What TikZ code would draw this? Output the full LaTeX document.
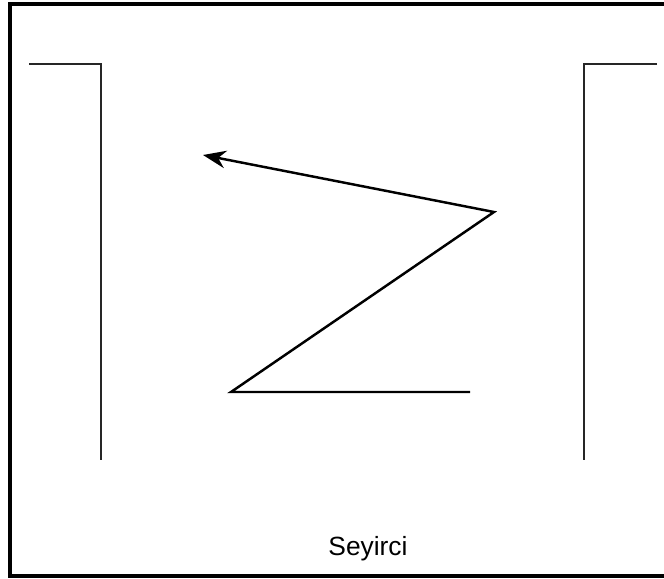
\documentclass[tikz,border=0pt]{standalone}
\usepackage{fontspec}
\setmainfont{Liberation Sans}
\usetikzlibrary{arrows.meta}

\begin{document}
\begin{tikzpicture}[
  x=0.02cm, y=-0.02cm,
  >=Stealth,
  wall/.style={line width=1.5pt, color=black!85},
  path/.style={line width=1.4pt, color=black},
  frame/.style={line width=1.8pt},
  lbl/.style={font=\fontsize{15}{18}\selectfont, inner sep=0pt},
]
\useasboundingbox (0,0) rectangle (664,579);

% frame (right side is cut off)
\draw[frame] (690,4) -- (10,4) -- (10,576) -- (690,576);

% side walls
\draw[wall] (29,64) -- (101,64) -- (101,460);
\draw[wall] (657,64) -- (584,64) -- (584,460);

% zigzag route
\coordinate (start) at (470,392);
\coordinate (bend1) at (231,392);
\coordinate (bend2) at (494,212);
\coordinate (goal) at (203,155);
\draw[path, -{Stealth[length=13pt,width=10pt]}] (start) -- (bend1) -- (bend2) -- (goal);

\node[lbl] (audience) at (368,549) {Seyirci};

\end{tikzpicture}
\end{document}
